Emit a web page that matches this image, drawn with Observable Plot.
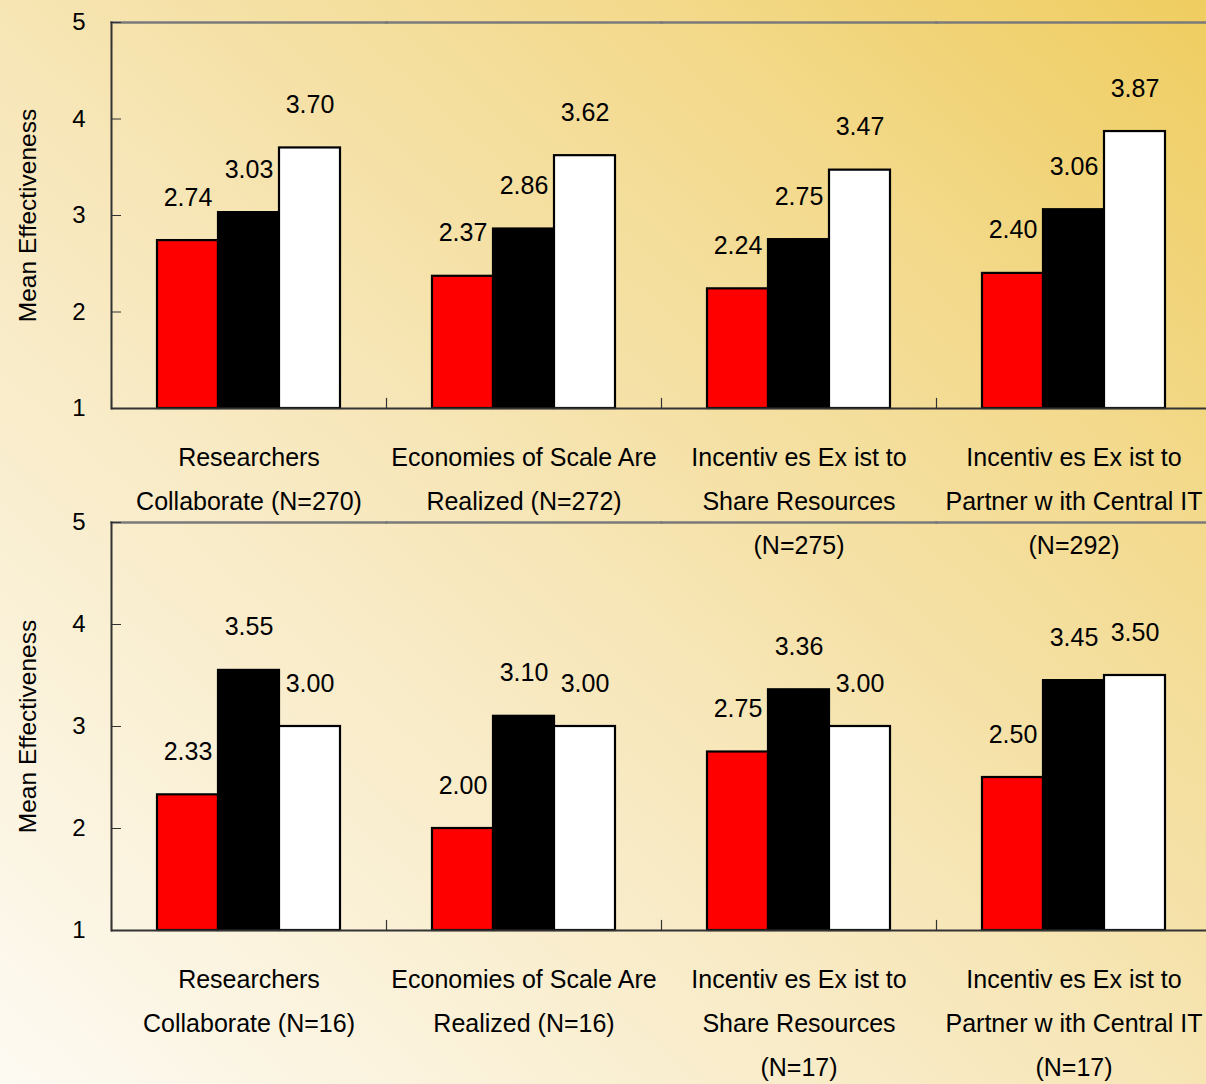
<!DOCTYPE html>
<html>
<head>
<meta charset="utf-8">
<script src="https://cdn.jsdelivr.net/npm/d3@7"></script>
<script src="https://cdn.jsdelivr.net/npm/@observablehq/plot@0.6"></script>
<style>
  html, body { margin: 0; padding: 0; }
  body {
    width: 1206px; height: 1084px; overflow: hidden; position: relative;
    background: linear-gradient(to top right, #fdfaf2 0%, #f7e7bb 45%, #f3da8e 75%, #efcd60 100%);
  }
  .panel { position: absolute; left: 0; width: 1212px; }
  .panel svg { max-width: none !important; }
  #top { top: 0; }
  #bottom { top: 500px; }
</style>
</head>
<body>
<div id="top" class="panel"></div>
<div id="bottom" class="panel"></div>
<script>
// ---- data ----
const series = ["Series 1", "Series 2", "Series 3"];
const seriesColors = ["#ff0000", "#000000", "#ffffff"];

const categoriesTop = [
  "Researchers\nCollaborate (N=270)",
  "Economies of Scale Are\nRealized (N=272)",
  "Incentiv es Ex ist to\nShare Resources\n(N=275)",
  "Incentiv es Ex ist to\nPartner w ith Central IT\n(N=292)"
];
const topSeries1 = [2.74, 2.37, 2.24, 2.40];
const topSeries2 = [3.03, 2.86, 2.75, 3.06];
const topSeries3 = [3.70, 3.62, 3.47, 3.87];

const categoriesBottom = [
  "Researchers\nCollaborate (N=16)",
  "Economies of Scale Are\nRealized (N=16)",
  "Incentiv es Ex ist to\nShare Resources\n(N=17)",
  "Incentiv es Ex ist to\nPartner w ith Central IT\n(N=17)"
];
const bottomSeries1 = [2.33, 2.00, 2.75, 2.50];
const bottomSeries2 = [3.55, 3.10, 3.36, 3.45];
const bottomSeries3 = [3.00, 3.00, 3.00, 3.50];

const yTicks = [1, 2, 3, 4, 5];
const yDomain = [1, 5];
const yTitle = "Mean Effectiveness";

// ---- build ----
function rows(categories, lists) {
  const out = [];
  categories.forEach((c, i) => {
    lists.forEach((vals, j) => out.push({category: c, series: series[j], value: vals[i], base: yDomain[0]}));
  });
  return out;
}

const FONT = "'Liberation Sans Narrow', 'Arial Narrow', 'Liberation Sans', Arial, sans-serif";

function panel(categories, data, innerHeight, marginBottom) {
  const marginTop = 22;
  return Plot.plot({
    width: 1212,
    height: marginTop + innerHeight + marginBottom,
    marginLeft: 110,
    marginRight: 0,
    marginTop,
    marginBottom,
    style: {fontFamily: FONT, fontSize: "25px", color: "#000", background: "transparent", overflow: "visible", maxWidth: "none"},
    fx: {domain: categories, padding: 0, label: null},
    x: {domain: series, paddingInner: 0, paddingOuter: 0.75, axis: null},
    y: {domain: yDomain, axis: null},
    color: {domain: series, range: seriesColors},
    marks: [
      Plot.frame({anchor: "top", stroke: "#7a7a7a", strokeWidth: 2.5, strokeOpacity: 1}),
      Plot.frame({anchor: "left", insetTop: innerHeight - 10, stroke: "#333", strokeWidth: 1.2, strokeOpacity: 1}),
      Plot.frame({anchor: "left", facetAnchor: "left", stroke: "#333", strokeWidth: 2, strokeOpacity: 1}),
      Plot.barY(data, {fx: "category", x: "series", y1: "base", y2: "value", fill: "series", stroke: "#000", strokeWidth: 2.2}),
      Plot.ruleY([yDomain[0]], {stroke: "#333", strokeWidth: 2}),
      Plot.text(data, {fx: "category", x: "series", y: "value", text: d => d.value.toFixed(2), dy: -43, fontSize: 25, fill: "#000"}),
      Plot.axisY({ticks: yTicks, tickFormat: "d", tickSize: 10, dx: 10, tickPadding: 26, fontSize: 24, label: null, stroke: "#333"}),
      Plot.text([yTitle], {frameAnchor: "left", textAnchor: "middle", rotate: -90, dx: -83, fontSize: 24.5, facetAnchor: "left", fill: "#000"}),
      Plot.axisFx({anchor: "bottom", tickSize: 0, tickPadding: 26, fontSize: 25, lineHeight: 1.77, label: null})
    ]
  });
}

document.getElementById("top").appendChild(
  panel(categoriesTop, rows(categoriesTop, [topSeries1, topSeries2, topSeries3]), 386, 160)
);
document.getElementById("bottom").appendChild(
  panel(categoriesBottom, rows(categoriesBottom, [bottomSeries1, bottomSeries2, bottomSeries3]), 408, 154)
);
</script>
</body>
</html>
